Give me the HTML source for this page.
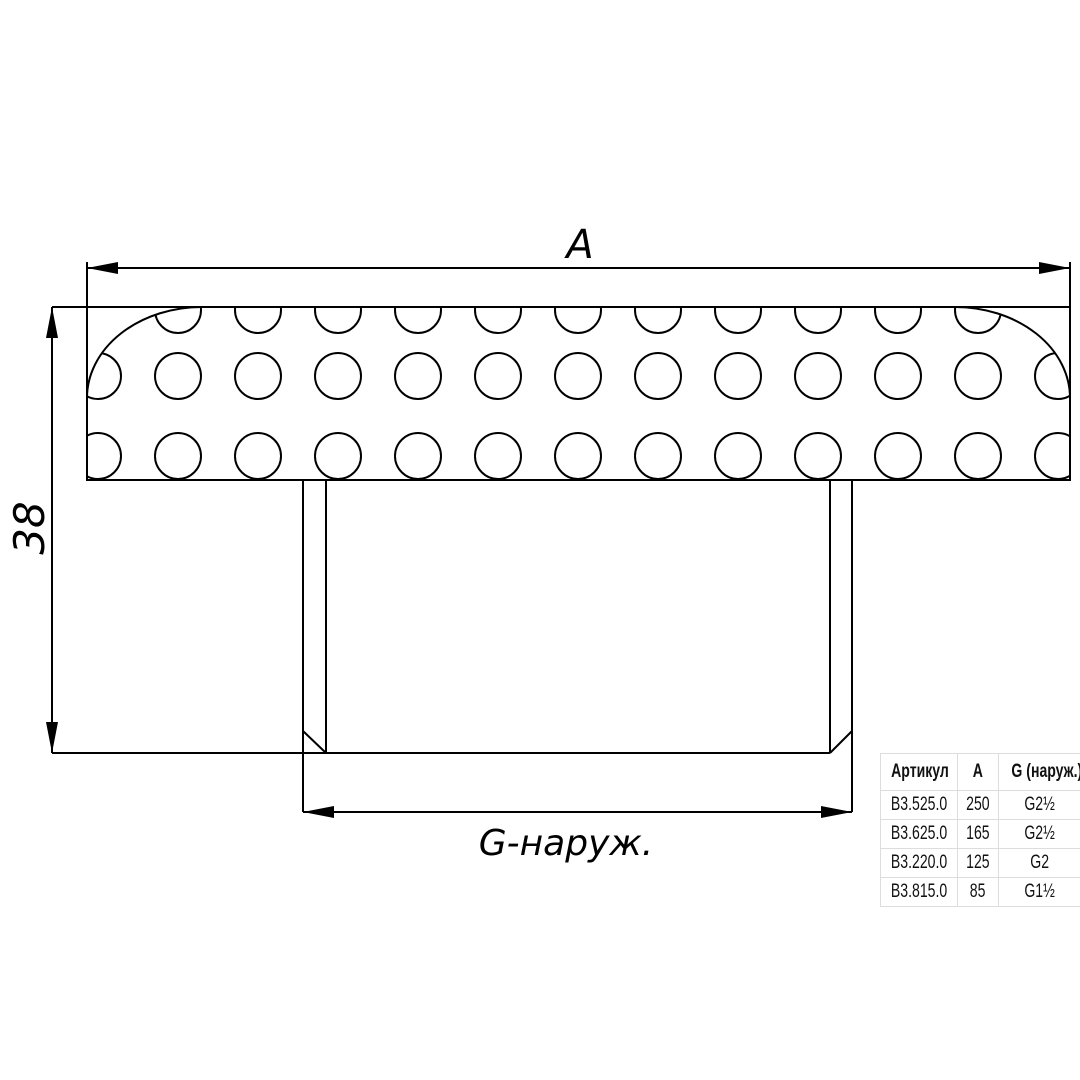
<!DOCTYPE html>
<html><head><meta charset="utf-8"><style>
body{margin:0;background:#fff;width:1080px;height:1080px;overflow:hidden;position:relative}
svg{position:absolute;left:0;top:0}
table{position:absolute;left:880px;top:753px;width:200px;border-collapse:collapse;font-family:"Liberation Sans",sans-serif;font-size:19px;color:#111;table-layout:fixed}
td{border:1px solid #ddd;text-align:center;padding:0;height:28px;white-space:nowrap;overflow:visible}
td span{display:inline-block;transform:scaleX(.74);transform-origin:center}
tr.h td{height:36px;font-weight:bold}
</style></head><body>
<svg width="1080" height="1080" viewBox="0 0 1080 1080">
<defs>
<clipPath id="c"><path d="M87 480 L87 398 A115 91 0 0 1 202 307 L955 307 A115 91 0 0 1 1070 398 L1070 480 Z"/></clipPath>
</defs>
<g clip-path="url(#c)" fill="none" stroke="#000" stroke-width="2">
<circle cx="98" cy="376" r="23"/><circle cx="98" cy="456" r="23"/>
<circle cx="1058" cy="376" r="23"/><circle cx="1058" cy="456" r="23"/>
<circle cx="178" cy="310" r="23"/><circle cx="258" cy="310" r="23"/><circle cx="338" cy="310" r="23"/><circle cx="418" cy="310" r="23"/><circle cx="498" cy="310" r="23"/><circle cx="578" cy="310" r="23"/><circle cx="658" cy="310" r="23"/><circle cx="738" cy="310" r="23"/><circle cx="818" cy="310" r="23"/><circle cx="898" cy="310" r="23"/><circle cx="978" cy="310" r="23"/>
<circle cx="178" cy="376" r="23"/><circle cx="258" cy="376" r="23"/><circle cx="338" cy="376" r="23"/><circle cx="418" cy="376" r="23"/><circle cx="498" cy="376" r="23"/><circle cx="578" cy="376" r="23"/><circle cx="658" cy="376" r="23"/><circle cx="738" cy="376" r="23"/><circle cx="818" cy="376" r="23"/><circle cx="898" cy="376" r="23"/><circle cx="978" cy="376" r="23"/>
<circle cx="178" cy="456" r="23"/><circle cx="258" cy="456" r="23"/><circle cx="338" cy="456" r="23"/><circle cx="418" cy="456" r="23"/><circle cx="498" cy="456" r="23"/><circle cx="578" cy="456" r="23"/><circle cx="658" cy="456" r="23"/><circle cx="738" cy="456" r="23"/><circle cx="818" cy="456" r="23"/><circle cx="898" cy="456" r="23"/><circle cx="978" cy="456" r="23"/>
</g>
<g fill="none" stroke="#000" stroke-width="2">
<path d="M87 398 A115 91 0 0 1 202 307 M955 307 A115 91 0 0 1 1070 398"/>
<path d="M52 307 H1070"/>
<path d="M87 262 V480 H1070 V262"/>
<path d="M87 268 H1070"/>
<path d="M52 307 V753"/>
<path d="M303 480 V812 M326 480 V753 M830 480 V753 M852 480 V812"/>
<path d="M303 731 L326 753 M852 731 L830 753"/>
<path d="M52 753 H830"/>
<path d="M303 812 H852"/>
</g>
<g fill="#000">
<path d="M87 268 L118 262 L118 274 Z"/><path d="M1070 268 L1039 262 L1039 274 Z"/>
<path d="M52 307 L46 338 L58 338 Z"/><path d="M52 753 L46 722 L58 722 Z"/>
<path d="M303 812 L334 806 L334 818 Z"/><path d="M852 812 L821 806 L821 818 Z"/>
</g>
<g font-family="DejaVu Sans, sans-serif" font-style="italic" font-weight="200" fill="#000">
<text x="580" y="258" font-size="40" text-anchor="middle">A</text>
<text x="0" y="0" font-size="42" text-anchor="middle" transform="translate(44,528) rotate(-90)">38</text>
<text x="566" y="855" font-size="36" text-anchor="middle">G-наруж.</text>
</g>
</svg>
<table>
<colgroup><col style="width:77px"><col style="width:41px"><col style="width:82px"></colgroup>
<tr class="h"><td><span>Артикул</span></td><td><span>A</span></td><td><span>G (наруж.)</span></td></tr>
<tr><td><span>B3.525.0</span></td><td><span>250</span></td><td><span>G2½</span></td></tr>
<tr><td><span>B3.625.0</span></td><td><span>165</span></td><td><span>G2½</span></td></tr>
<tr><td><span>B3.220.0</span></td><td><span>125</span></td><td><span>G2</span></td></tr>
<tr><td><span>B3.815.0</span></td><td><span>85</span></td><td><span>G1½</span></td></tr>
</table>
</body></html>
